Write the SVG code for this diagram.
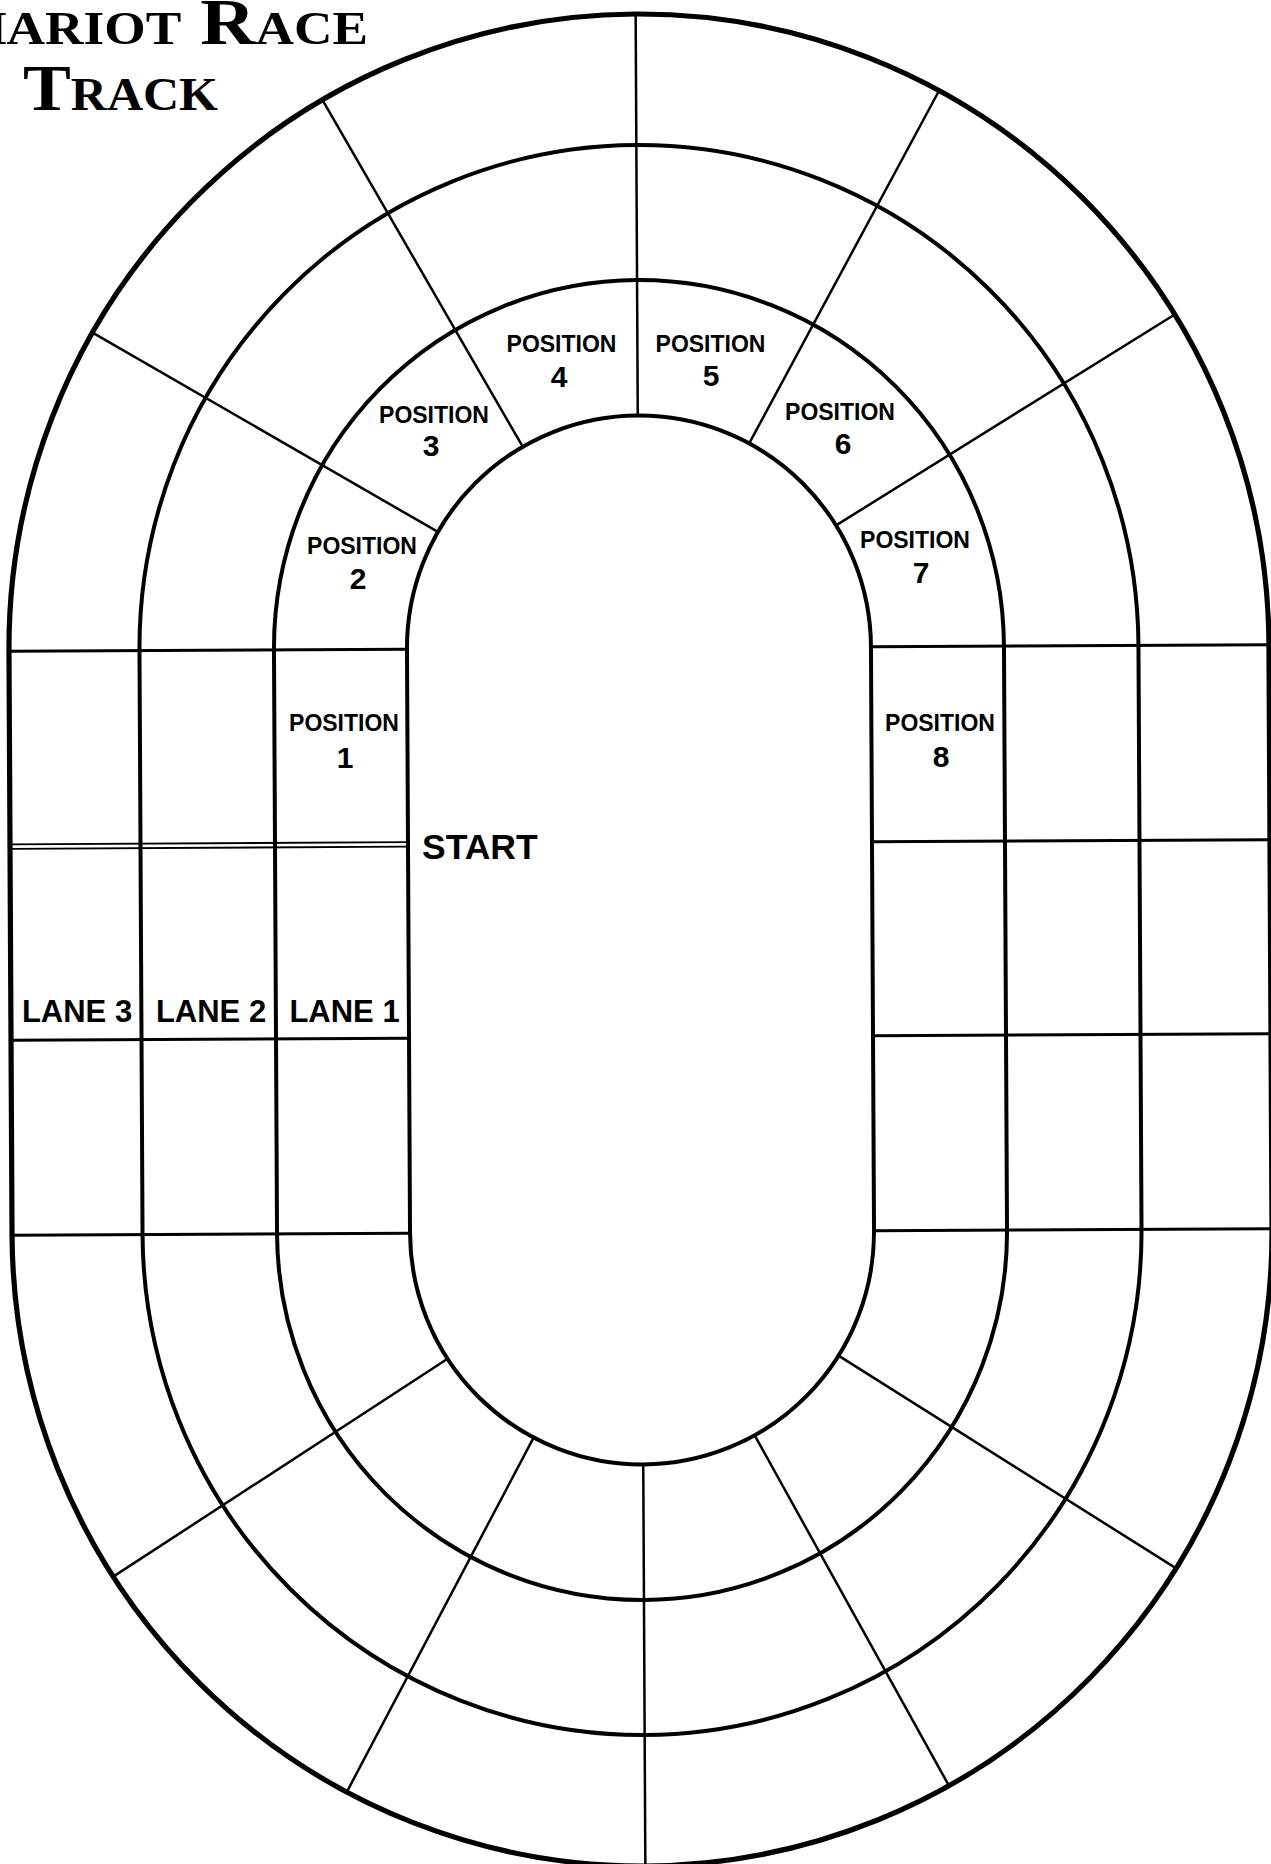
<svg xmlns="http://www.w3.org/2000/svg" width="1271" height="1864" viewBox="0 0 1271 1864">
<style>
.bg{fill:#ffffff}
.ring{fill:none;stroke:#000;stroke-linejoin:round}
.outer{stroke-width:5.2}
.lane{stroke-width:4}
.div{fill:none;stroke:#000;stroke-width:2.5;stroke-linecap:butt}
.row{fill:none;stroke:#000;stroke-width:3}
.dbl{fill:none;stroke:#000;stroke-width:1.8}
.pos{font-family:"Liberation Sans",Arial,sans-serif;font-weight:bold;font-size:23px;fill:#000;text-anchor:middle}
.num{font-family:"Liberation Sans",Arial,sans-serif;font-weight:bold;font-size:30px;fill:#000;text-anchor:middle}
.lbl{font-family:"Liberation Sans",Arial,sans-serif;font-weight:bold;font-size:31px;fill:#000;text-anchor:middle}
.start{font-family:"Liberation Sans",Arial,sans-serif;font-weight:bold;font-size:35.5px;fill:#000}
.title{font-family:"Liberation Serif","Times New Roman",serif;font-weight:bold;font-size:66px;font-variant:small-caps;fill:#000}
</style>
<rect class="bg" x="0" y="0" width="1271" height="1864"/>

<g id="title">
<text class="title" x="-90" y="44" textLength="458" lengthAdjust="spacingAndGlyphs">Chariot Race</text>
<text class="title" x="23" y="110" textLength="195" lengthAdjust="spacingAndGlyphs">Track</text>
</g>

<g id="track" transform="rotate(-0.3 640 940)">
<g id="boundaries">
<path id="infield" class="ring lane" d="M408.5,1232 V648 A232,232.5 0 0 1 872.5,648 V1232 A232,232.5 0 0 1 408.5,1232 Z"/>
<path id="lane1-edge" class="ring lane" d="M275.5,1232 V648 A365,368 0 0 1 1005.5,648 V1232 A365,368 0 0 1 275.5,1232 Z"/>
<path id="lane2-edge" class="ring lane" d="M141,1232 V648 A499.5,503 0 0 1 1140,648 V1232 A499.5,503 0 0 1 141,1232 Z"/>
<path id="lane3-edge" class="ring outer" d="M10.5,1232 V648 A630,634 0 0 1 1270.5,648 V1232 A630,634 0 0 1 10.5,1232 Z"/>
</g>
<g id="connectors">
<path class="div" d="M440.1,530.9 L95.7,329.7"/>
<path class="div" d="M525.3,446.1 L326.8,98.2"/>
<path class="div" d="M640.5,415.5 L640.5,14"/>
<path class="div" d="M751.8,444 L943.6,92.1"/>
<path class="div" d="M838.2,526.4 L1178,317.3"/>
<path class="div" d="M445.4,1357.7 L109.9,1573.9"/>
<path class="div" d="M531,1437 L342.3,1790.5"/>
<path class="div" d="M640.5,1464.5 L640.5,1866"/>
<path class="div" d="M752.1,1435.9 L944.5,1787.3"/>
<path class="div" d="M836.3,1356.7 L1172.9,1571.2"/>
<path class="row" d="M10.5,648 H408.5 M10.5,1037 H408.5 M10.5,1232 H408.5"/>
<path class="dbl" d="M10.5,841 H408.5 M10.5,845.5 H408.5"/>
<path class="row" d="M872.5,648 H1270.5 M872.5,843 H1270.5 M872.5,1037 H1270.5 M872.5,1232 H1270.5"/>
</g>
</g>

<g id="labels">
<g id="pos1"><text class="pos" x="344" y="731">POSITION</text><text class="num" x="345" y="768">1</text></g>
<g id="pos2"><text class="pos" x="362" y="554">POSITION</text><text class="num" x="358" y="589">2</text></g>
<g id="pos3"><text class="pos" x="434" y="422.5">POSITION</text><text class="num" x="431" y="456">3</text></g>
<g id="pos4"><text class="pos" x="561.5" y="352">POSITION</text><text class="num" x="559" y="387">4</text></g>
<g id="pos5"><text class="pos" x="710.5" y="352">POSITION</text><text class="num" x="711" y="386">5</text></g>
<g id="pos6"><text class="pos" x="840" y="420">POSITION</text><text class="num" x="843" y="454">6</text></g>
<g id="pos7"><text class="pos" x="915" y="548">POSITION</text><text class="num" x="921" y="583">7</text></g>
<g id="pos8"><text class="pos" x="940" y="731">POSITION</text><text class="num" x="941" y="767">8</text></g>
<g id="start"><text class="start" x="422" y="859">START</text></g>
<g id="lane3"><text class="lbl" x="77" y="1022">LANE 3</text></g>
<g id="lane2"><text class="lbl" x="211" y="1022">LANE 2</text></g>
<g id="lane1"><text class="lbl" x="344.5" y="1022">LANE 1</text></g>
</g>
</svg>
